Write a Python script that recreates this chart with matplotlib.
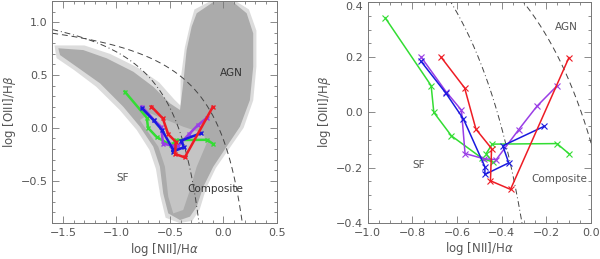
import numpy as np
import matplotlib
matplotlib.use('Agg')
import matplotlib.pyplot as plt
from matplotlib.ticker import MultipleLocator

# tracks in the BPT plane (log [NII]/Ha, log [OIII]/Hb)
red_x    = [-0.673, -0.566, -0.515, -0.445, -0.450, -0.360, -0.098]
red_y    = [ 0.202,  0.089, -0.061, -0.131, -0.248, -0.279,  0.199]
green_x  = [-0.922, -0.716, -0.704, -0.625, -0.490, -0.440, -0.470, -0.442, -0.152, -0.096]
green_y  = [ 0.343,  0.097,  0.000, -0.085, -0.165, -0.180, -0.150, -0.115, -0.113, -0.151]
blue_x   = [-0.762, -0.650, -0.571, -0.475, -0.475, -0.368, -0.395, -0.208]
blue_y   = [ 0.186,  0.070, -0.024, -0.197, -0.225, -0.183, -0.121, -0.050]
purple_x = [-0.762, -0.649, -0.580, -0.564, -0.480, -0.424, -0.323, -0.241, -0.152]
purple_y = [ 0.202,  0.075,  0.008, -0.149, -0.168, -0.171, -0.062,  0.023,  0.096]

# outline of the SDSS galaxy cloud
fringe_x = [-1.58, -1.30, -1.06, -0.80, -0.60, -0.46, -0.40, -0.40, -0.36, -0.31,
            -0.27, -0.10, 0.10, 0.24, 0.31, 0.31, 0.28, 0.19, 0.06, -0.07,
            -0.16, -0.22, -0.29, -0.41, -0.54, -0.59, -0.63, -0.69, -0.81,
            -0.97, -1.19, -1.40, -1.56]
fringe_y = [0.78, 0.78, 0.70, 0.57, 0.43, 0.27, 0.21, 0.45, 0.76, 0.98,
            1.12, 1.21, 1.21, 1.12, 0.92, 0.58, 0.26, 0.00, -0.19, -0.38,
            -0.57, -0.77, -0.88, -0.90, -0.85, -0.64, -0.39, -0.21, -0.02,
            0.17, 0.39, 0.55, 0.66]
cloud_x = [-1.544, -1.31, -1.091, -0.842, -0.655, -0.499, -0.405, -0.375, -0.343, -0.296,
           -0.249, -0.094, 0.093, 0.219, 0.28, 0.28, 0.249, 0.156, 0.031, -0.094,
           -0.187, -0.249, -0.312, -0.405, -0.515, -0.562, -0.593, -0.655, -0.78,
           -0.936, -1.153, -1.372, -1.528]
cloud_y = [0.753, 0.736, 0.658, 0.531, 0.389, 0.232, 0.169, 0.421, 0.736, 0.957,
           1.084, 1.19, 1.19, 1.084, 0.894, 0.578, 0.263, 0.011, -0.178, -0.368,
           -0.557, -0.746, -0.84, -0.872, -0.809, -0.62, -0.368, -0.178, 0.011,
           0.2, 0.421, 0.578, 0.689]
core_x = [-0.685, -0.53, -0.375, -0.187, -0.156, -0.249, -0.312, -0.375, -0.468,
          -0.515, -0.546, -0.608, -0.717, -0.78]
core_y = [0.138, 0.074, 0.011, -0.052, -0.146, -0.368, -0.588, -0.777, -0.809,
          -0.651, -0.368, -0.178, -0.02, 0.074]

tracks = [(green_x, green_y, '#33dd33'),
          (purple_x, purple_y, '#9a3ee6'),
          (blue_x, blue_y, '#1a1adf'),
          (red_x, red_y, '#ee1c24')]

tcol = '#555555'

def kauff(x):
    return 0.61 / (x - 0.05) + 1.3

def kewley(x):
    return 0.61 / (x - 0.47) + 1.19

def style(ax, xmaj, xmin, ymaj, ymin):
    ax.xaxis.set_major_locator(MultipleLocator(xmaj))
    ax.xaxis.set_minor_locator(MultipleLocator(xmin))
    ax.yaxis.set_minor_locator(MultipleLocator(ymin))
    ax.tick_params(which='both', direction='in', top=True, right=True,
                   colors='#777777', labelcolor=tcol, labelsize=8)
    ax.tick_params(which='major', length=5, width=0.6)
    ax.tick_params(which='minor', length=2.5, width=0.6)
    for s in ax.spines.values():
        s.set_color('#777777')
        s.set_linewidth(0.7)
    ax.set_xlabel(r'log [NII]/H$\alpha$', fontsize=8.5, color=tcol, labelpad=2)
    ax.set_ylabel(r'log [OIII]/H$\beta$', fontsize=8.5, color=tcol, labelpad=2)

def curves(ax, x0, x1):
    xk = np.linspace(x0, 0.04, 400)
    ax.plot(xk, kauff(xk), color='#444444', lw=0.7, ls=(0, (6, 3, 1, 3)))
    xw = np.linspace(x0, 0.46, 400)
    ax.plot(xw, kewley(xw), color='#444444', lw=0.7, ls=(0, (6, 4)))

fig = plt.figure(figsize=(6, 2.59), dpi=100)
ax1 = fig.add_axes([0.0872, 0.139, 0.374, 0.857])
ax2 = fig.add_axes([0.613, 0.140, 0.3717, 0.852])

ax1.fill(fringe_x, fringe_y, color='#dcdcdc', lw=0, zorder=0.5)
ax1.fill(cloud_x, cloud_y, color='#ababab', lw=0, zorder=1)
ax1.fill(core_x, core_y, color='#c4c4c4', lw=0, zorder=1.5)
curves(ax1, -1.6, 0.5)
for x, y, c in tracks:
    ax1.plot(x, y, color=c, lw=1.8, marker='x', ms=3, mew=1, zorder=3)
ax1.set_xlim(-1.6, 0.5)
ax1.set_ylim(-0.9, 1.2)
ax1.set_yticks([-0.5, 0.0, 0.5, 1.0])
ax1.text(0.08, 0.52, 'AGN', fontsize=7.5, color='#333333', ha='center', va='center')
ax1.text(-0.94, -0.47, 'SF', fontsize=7.5, color='#555555', ha='center', va='center')
ax1.text(-0.07, -0.58, 'Composite', fontsize=7.5, color='#333333', ha='center', va='center')
style(ax1, 0.5, 0.1, 0.5, 0.1)

curves(ax2, -1.0, 0.0)
for x, y, c in tracks:
    ax2.plot(x, y, color=c, lw=1.1, marker='x', ms=5, mew=0.8, zorder=3)
ax2.set_xlim(-1.0, 0.0)
ax2.set_ylim(-0.4, 0.4)
ax2.set_yticks([-0.4, -0.2, 0.0, 0.2, 0.4])
ax2.yaxis.get_major_ticks()[-1].label1.set_va('top')
ax2.text(-0.11, 0.31, 'AGN', fontsize=7.5, color='#555555', ha='center', va='center')
ax2.text(-0.77, -0.19, 'SF', fontsize=7.5, color='#555555', ha='center', va='center')
ax2.text(-0.14, -0.243, 'Composite', fontsize=7.5, color='#555555', ha='center', va='center')
style(ax2, 0.2, 0.05, 0.2, 0.05)

fig.savefig('out.png', dpi=100)
